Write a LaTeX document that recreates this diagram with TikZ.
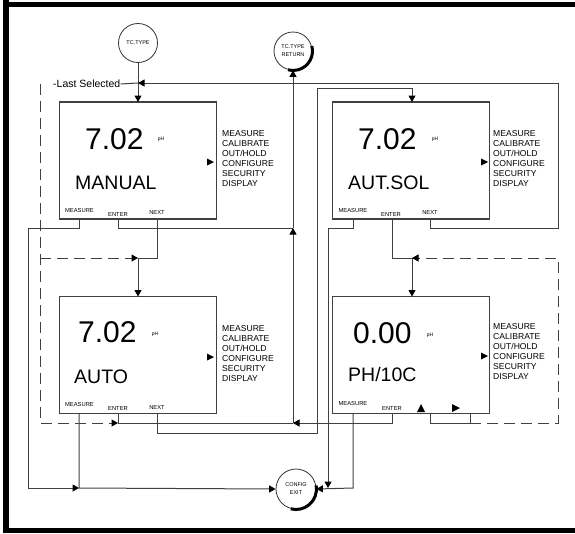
\documentclass[tikz,border=0pt]{standalone}
\usepackage{fontspec}
\setmainfont{Liberation Sans}
\usetikzlibrary{arrows.meta}
\begin{document}
\begin{tikzpicture}[x=1pt,y=-1pt,
  ln/.style={draw=black!75, line width=1pt},
  dsh/.style={ln, dash pattern=on 11pt off 6pt},
  tip/.style={-{Triangle[length=6.5pt,width=7pt,color=black]}},
  lcd/.style={draw=black!75, line width=1.1pt, minimum width=157pt, minimum height=117pt, inner sep=0pt},
  circ/.style={circle, draw=black!80, line width=0.8pt, inner sep=0pt, font=\fontsize{5.5}{8}\selectfont, align=center},
  val/.style={font=\fontsize{30}{30}\selectfont, inner sep=0pt, anchor=west},
  mode/.style={font=\fontsize{19.5}{20}\selectfont, inner sep=0pt, anchor=west},
  phl/.style={font=\fontsize{5}{5}\selectfont, inner sep=0pt},
  menu/.style={font=\fontsize{8.6}{10}\selectfont, inner sep=0pt, anchor=north west, align=left},
  key/.style={font=\fontsize{5.8}{6}\selectfont, inner sep=0pt},
  thk/.style={line width=3pt, draw=black}
]
\useasboundingbox (0,0) rectangle (575,533);
% frame
\draw[line width=6pt] (6,0) -- (6,533);
\draw[line width=5pt] (3,4.5) -- (575,4.5);
\draw[line width=5pt] (3,530) -- (575,530);

% boxes
\node[lcd] (man) at (138,160.5) {};
\node[lcd] (sol) at (411,160.5) {};
\node[lcd] (aut) at (138,355) {};
\node[lcd] (ph)  at (411,355) {};

% circles
\node[circ, minimum size=39pt] (tc)  at (138,43) {TC.TYPE};
\node[circ, minimum size=38pt] (tcr) at (293,51) {TC.TYPE\\RETURN};
\node[circ, minimum size=40pt] (cfg) at (296,489) {CONFIG\\EXIT};
\draw[thk] (tcr.center) ++(-15:19.5) arc[start angle=-15, end angle=105, radius=19.5];
\draw[thk] (cfg.center) ++(-10:20.5) arc[start angle=-10, end angle=105, radius=20.5];

% texts MANUAL
\node[val] (manV) at (85,139) {7.02};
\node[phl] (manP) at (161,139) {pH};
\node[mode] (manM) at (75,183) {MANUAL};
\node[menu] (manMenu) at (222,130) {MEASURE\\CALIBRATE\\OUT/HOLD\\CONFIGURE\\SECURITY\\DISPLAY};
\fill (207,158.5) -- (214,162) -- (207,165.5) -- cycle;
\node[key] (manK1) at (79.5,210) {MEASURE};
\node[key] (manK2) at (118,215) {ENTER};
\node[key] (manK3) at (157,213) {NEXT};

% texts AUT.SOL
\node[val] (solV) at (358,139) {7.02};
\node[phl] (solP) at (435,139) {pH};
\node[mode] (solM) at (348,183) {AUT.SOL};
\node[menu] (solMenu) at (493,130) {MEASURE\\CALIBRATE\\OUT/HOLD\\CONFIGURE\\SECURITY\\DISPLAY};
\fill (481,158.5) -- (488,162) -- (481,165.5) -- cycle;
\node[key] (solK1) at (353,210) {MEASURE};
\node[key] (solK2) at (391,215) {ENTER};
\node[key] (solK3) at (430,213) {NEXT};

% texts AUTO
\node[val] (autV) at (78,332) {7.02};
\node[phl] (autP) at (155,334) {pH};
\node[mode] (autM) at (74,377) {AUTO};
\node[menu] (autMenu) at (222,325) {MEASURE\\CALIBRATE\\OUT/HOLD\\CONFIGURE\\SECURITY\\DISPLAY};
\fill (207,353.5) -- (214,357) -- (207,360.5) -- cycle;
\node[key] (autK1) at (79.5,404) {MEASURE};
\node[key] (autK2) at (118,408.5) {ENTER};
\node[key] (autK3) at (157,407) {NEXT};

% texts PH/10C
\node[val] (phV) at (353,333) {0.00};
\node[phl] (phP) at (430,335) {pH};
\node[mode] (phM) at (348,375) {PH/10C};
\node[menu] (phMenu) at (493,323) {MEASURE\\CALIBRATE\\OUT/HOLD\\CONFIGURE\\SECURITY\\DISPLAY};
\fill (481,352.5) -- (488,356) -- (481,359.5) -- cycle;
\node[key] (phK1) at (353,403) {MEASURE};
\node[key] (phK2) at (392,408.5) {ENTER};
\fill (417,412) -- (421,404) -- (425,412) -- cycle;
\fill (452,404) -- (460,408) -- (452,412) -- cycle;

% label
\node[font=\fontsize{10.5}{11}\selectfont, inner sep=0pt, anchor=west] (ls) at (53,84) {-Last Selected};

% ports
\coordinate (manMe) at (79,219);
\coordinate (manEn) at (118,219);
\coordinate (manNx) at (157,219);
\coordinate (solMe) at (353,219);
\coordinate (solEn) at (392,219);
\coordinate (solNx) at (430,219);
\coordinate (autMe) at (79,413.5);
\coordinate (autEn) at (118,413.5);
\coordinate (autNx) at (157,413.5);
\coordinate (phMe) at (353,413.5);
\coordinate (phEn) at (392,413.5);
\coordinate (phU1) at (430,413.5);
\coordinate (phU2) at (470,413.5);
\coordinate (manIn) at (138,102);
\coordinate (solIn) at (412,102);
\coordinate (autIn) at (138,296.5);
\coordinate (phIn) at (412,296.5);
\coordinate (jLS) at (138,83);
\coordinate (jE) at (293,228);
\coordinate (jB) at (293,423);
\coordinate (jL) at (138,258);
\coordinate (jR) at (412,258);

% connectors
\draw[ln,tip] (tc.south) -- (manIn);
\draw[ln] (ls.east) -- (jLS);
\draw[ln,tip] (solNx) -- (430,228) -- (558,228) -- (558,83) -- (jLS);
\draw[ln,tip] (autNx) -- (157,433) -- (317,433) -- (317,88) -- (412,88) -- (solIn);
\draw[ln] (manEn) -- (118,228) -- (jE);
\draw[ln,tip] (jB) -- (jE);
\draw[ln,tip] (jE) -- (tcr.south);
\draw[ln] (autEn) -- (118,423) -- (jB);
\draw[ln,tip] (phEn) -- (392,423) -- (jB);
\draw[dsh,tip] (40,84) -- (40,423) -- (118,423);
\draw[dsh,tip] (40,258) -- (jL);
\draw[ln] (manNx) -- (157,258) -- (jL);
\draw[ln,tip] (jL) -- (autIn);
\draw[ln] (solEn) -- (392,258) -- (jR);
\draw[ln,tip] (jR) -- (phIn);
\draw[dsh,tip] (470,423) -- (558,423) -- (558,258) -- (jR);
\draw[ln] (phU1) -- (430,423) -- (470,423) -- (phU2);
\draw[ln,tip] (manMe) -- (79,228) -- (28,228) -- (28,488) -- (79,488);
\draw[ln,tip] (autMe) -- (79,488) -- (cfg.west);
\draw[ln,tip] (solMe) -- (353,228) -- (328,228) -- (328,488);
\draw[ln,tip] (phMe) -- (353,488) -- (cfg.east);
\end{tikzpicture}
\end{document}
